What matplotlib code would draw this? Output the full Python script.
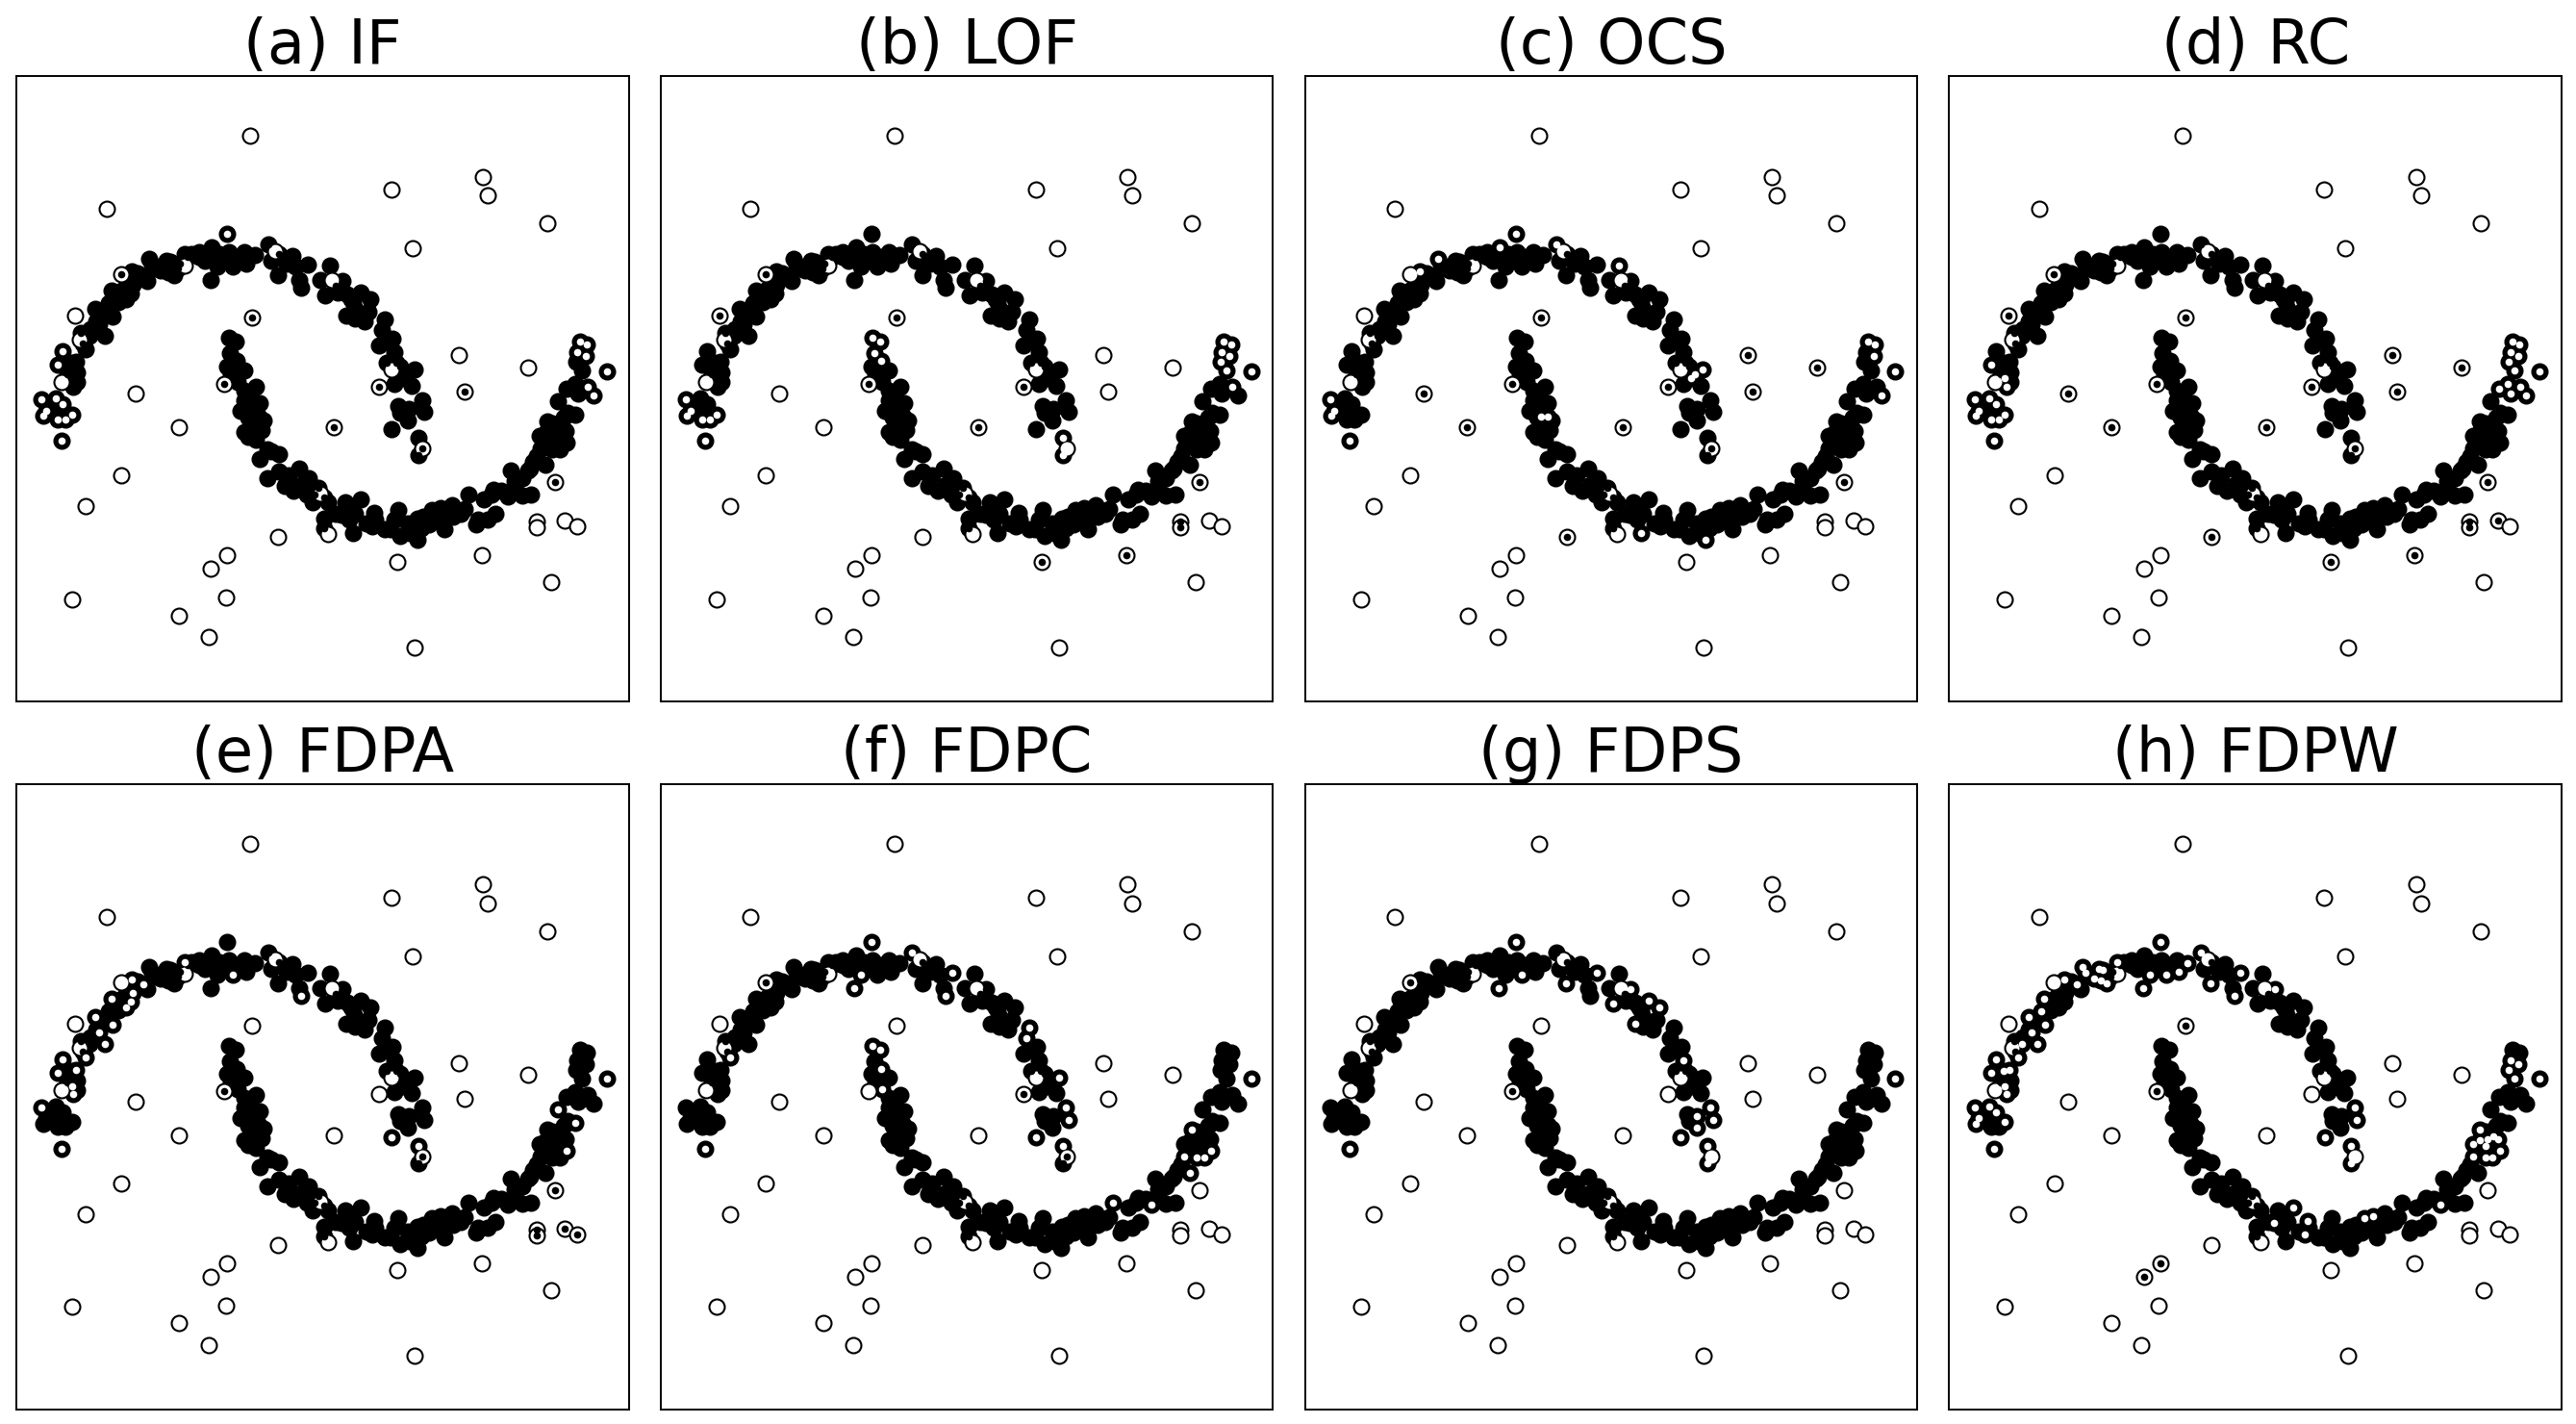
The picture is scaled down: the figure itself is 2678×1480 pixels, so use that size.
import matplotlib
matplotlib.use("Agg")
import matplotlib.pyplot as plt
import numpy as np

# --- Data (y grows downwards) ---
TITLES = ['(a) IF', '(b) LOF', '(c) OCS', '(d) RC',
          '(e) FDPA', '(f) FDPC', '(g) FDPS', '(h) FDPW']

MOON_X = [57, 95, 112, 68, 60, 100, 120, 137, 108, 85,
          140, 137, 100, 112, 148, 172, 133, 125, 150, 115,
          160, 182, 222, 208, 185, 198, 242, 233, 240, 215,
          225, 278, 292, 295, 293, 325, 265, 258, 250, 305,
          340, 348, 370, 385, 395, 390, 405, 432, 360, 335,
          415, 440, 420, 470, 503, 485, 518, 500, 545, 525,
          548, 560, 595, 617, 590, 570, 530, 505, 470,
          652, 660, 678, 715, 700, 757, 740, 735, 725, 680,
          815, 847, 790, 802, 830, 835, 860, 895, 922, 858,
          880, 905, 890, 915, 880,
          960, 951, 980, 945, 985, 960, 965, 990, 1037, 1005,
          985, 1030, 1000, 1015,
          995, 1057, 1063, 1022, 1020, 1000, 978, 1048, 1048,
          548, 568, 552, 570, 545, 590, 573, 555, 620, 590,
          612, 628, 580, 610, 630, 590, 590, 635, 610, 620,
          650, 630, 680, 660, 650, 680, 695, 705, 735, 760,
          740, 755, 770, 800, 785, 810, 775,
          800, 800, 855, 895, 845, 870, 875, 865, 880, 932,
          925, 935, 910, 995, 975, 985, 1000, 1025, 1044, 1045,
          1055, 1020, 1082, 1105, 1135, 1090, 1115, 1140, 1120, 1075,
          1180, 1170, 1205, 1230, 1250, 1220, 1200,
          1245, 1282, 1290, 1320, 1345, 1300, 1265, 1335, 1381, 1350,
          1320, 1300,
          1368, 1400, 1420, 1438, 1367, 1385, 1405, 1422, 1435, 1400,
          1387, 1460, 1415, 1440, 1430,
          1437, 1460, 1467, 1493, 1508, 1543, 1462, 1478, 1466, 1487,
          1472, 1490,
          # extra points inside the dense parts of the moons
          90, 105, 150, 200, 165, 270, 310, 450, 875, 870,
          600, 640, 600, 600, 720, 1060, 960, 830, 1240, 1360, 1400, 1410, 1390, 1160, 1340]
MOON_Y = [583, 580, 598, 618, 635, 645, 645, 630, 712, 605,
          543, 518, 475, 432, 467, 428, 470, 505, 500, 470,
          375, 385, 385, 350, 365, 302, 325, 283, 245, 320,
          300, 270, 253, 225, 185, 200, 260, 280, 270, 205,
          145, 162, 182, 150, 155, 187, 195, 130, 175, 215,
          175, 140, 160, 125, 110, 150, 170, 212, 68, 130,
          125, 170, 160, 132, 125, 140, 150, 140, 140,
          100, 150, 197, 135, 160, 162, 235, 210, 170, 130,
          167, 215, 210, 260, 230, 250, 255, 250, 272, 322,
          300, 340, 320, 310, 330,
          335, 367, 395, 415, 437, 400, 470, 470, 490, 518,
          535, 540, 480, 505,
          605, 585, 622, 612, 648, 625, 678, 703, 758,
          390, 404, 440, 463, 480, 492, 528, 505, 545, 555,
          636, 638, 618, 590, 595, 585, 685, 680, 660, 710,
          740, 770, 755, 745, 830, 810, 855, 820, 800, 830,
          850, 880, 905, 890, 860, 905, 880,
          955, 985, 905, 895, 945, 920, 1002, 960, 940, 938,
          980, 960, 970, 930, 990, 960, 1010, 1000, 1023, 955,
          985, 970, 928, 922, 915, 960, 990, 950, 940, 975,
          880, 925, 960, 960, 940, 895, 975,
          865, 888, 805, 885, 882, 860, 870, 805, 787, 780,
          830, 840,
          738, 741, 741, 720, 697, 685, 682, 675, 683, 703,
          652, 632, 590, 625, 640,
          550, 535, 565, 545, 572, 495, 467, 494, 436, 448,
          402, 413,
          600, 620, 530, 340, 410, 240, 190, 130, 280, 270,
          620, 650, 640, 700, 870, 950, 990, 940, 880, 760, 660, 720, 710, 940, 800]

OUT_X = [605, 227, 977, 1218, 1231, 1388, 1032, 266, 432, 670, 820, 145, 157, 611, 110,
         536, 303, 417, 1155, 1337, 1168, 944, 977, 825, 1058, 267, 172, 1407, 790, 810,
         1358, 1358, 1433, 1465, 679, 545, 502, 993, 1214, 1397, 137, 542, 418, 496, 1038]
OUT_Y = [-239, -10, -71, -112, -53, 34, 112, 192, 167, 120, 210, 321, 398, 327, 530,
         534, 566, 670, 446, 483, 558, 543, 490, 670, 737, 820, 918, 843, 878, 1005,
         964, 982, 963, 979, 1012, 1071, 1113, 1092, 1071, 1155, 1207, 1202, 1258, 1326, 1358]

# outliers each method missed (they get a dark centre)
MISSED_A = [7, 13, 15, 20, 21, 23, 24, 27]
MISSED_B = [7, 11, 13, 15, 21, 23, 27, 30, 31, 37, 38]
MISSED_C = [13, 15, 16, 17, 18, 19, 20, 21, 23, 24, 27, 34]
MISSED_D = [7, 11, 13, 15, 16, 17, 18, 19, 20, 21, 23, 24, 27, 30, 31, 32, 34, 37, 38]
MISSED_E = [15, 24, 27, 30, 31, 32, 33]
MISSED_F = [7, 21, 24]
MISSED_G = [7, 15]
MISSED_H = [13, 15, 35, 36]

# moon points each method wrongly flagged (they get a white centre)
FALSE_A = [(57, 583), (95, 580), (112, 598), (68, 618), (60, 635), (100, 645), (120, 645),
           (137, 630), (108, 712), (112, 432), (100, 475), (545, 68), (1472, 402), (1490, 413),
           (1466, 436), (1487, 448), (1493, 545), (1508, 572), (1543, 495)]
FALSE_B = [(57, 583), (68, 618), (60, 635), (100, 645), (120, 645), (137, 630), (108, 712),
           (548, 390), (568, 404), (552, 440), (570, 463), (1048, 703), (1048, 758),
           (1472, 402), (1490, 413), (1466, 436), (1487, 448), (1462, 467), (1478, 494),
           (1493, 545), (1543, 495)]
FALSE_C = [(545, 68), (503, 110), (340, 145), (293, 185), (652, 100), (815, 167), (1037, 490),
           (1005, 518), (1015, 505), (612, 636), (628, 638), (57, 583), (68, 618), (60, 635),
           (108, 712), (1472, 402), (1490, 413), (1487, 448), (1508, 572), (1543, 495),
           (875, 1002), (1044, 1023)]
FALSE_D = [(57, 583), (68, 618), (60, 635), (95, 580), (112, 598), (100, 645), (120, 645),
           (137, 630), (108, 712), (100, 475), (137, 518), (140, 543), (1472, 402), (1490, 413),
           (1466, 436), (1487, 448), (1462, 467), (1478, 494), (1437, 550), (1460, 535),
           (1467, 565), (1493, 545), (1508, 572), (1543, 495)]
FALSE_E = [(57, 583), (108, 712), (140, 543), (137, 518), (112, 432), (100, 475), (148, 467),
           (172, 428), (222, 385), (208, 350), (242, 325), (198, 302), (240, 245), (278, 270),
           (292, 253), (295, 225), (293, 185), (325, 200), (432, 130), (560, 170), (740, 235),
           (978, 678), (1048, 703), (1415, 590), (1460, 632), (1438, 720), (1543, 495)]
FALSE_F = [(545, 68), (518, 170), (500, 212), (652, 100), (757, 162), (740, 235), (172, 428),
           (548, 390), (568, 404), (570, 463), (573, 528), (960, 335), (951, 367), (1037, 490),
           (1057, 585), (1063, 622), (978, 678), (1048, 703), (108, 712), (1387, 652),
           (1368, 738), (1400, 741), (1420, 741), (1438, 720), (1381, 787), (1180, 880),
           (1282, 888), (1543, 495)]
FALSE_G = [(545, 68), (560, 170), (500, 212), (678, 197), (757, 162), (847, 215), (802, 260),
           (895, 250), (922, 272), (858, 322), (985, 437), (1057, 585), (1063, 622), (1022, 612),
           (1020, 648), (978, 678), (1048, 703), (1048, 758), (108, 712), (1543, 495)]
FALSE_H = [(57, 583), (95, 580), (112, 598), (68, 618), (60, 635), (137, 630), (108, 712),
           (112, 432), (100, 475), (133, 470), (150, 465), (137, 518), (140, 543), (172, 428),
           (182, 385), (222, 385), (208, 350), (242, 325), (198, 302), (233, 283), (240, 245),
           (293, 185), (325, 200), (348, 162), (340, 145), (370, 182), (385, 150), (395, 155),
           (390, 187), (405, 195), (432, 130), (518, 170), (560, 170), (595, 160), (617, 132),
           (500, 212), (652, 100), (678, 197), (740, 235), (757, 162), (847, 215), (545, 68),
           (1057, 585), (1063, 622), (978, 678), (1048, 703), (1048, 758), (1466, 436),
           (1487, 448), (1462, 467), (1478, 494), (1387, 652), (1367, 697), (1385, 685),
           (1405, 682), (1422, 675), (1435, 683), (1400, 703), (1438, 720), (1368, 738),
           (1400, 741), (1420, 741), (845, 945), (895, 895), (932, 938), (925, 980),
           (1082, 928), (1105, 922), (1282, 888), (1543, 495)]

MISSED = [MISSED_A, MISSED_B, MISSED_C, MISSED_D, MISSED_E, MISSED_F, MISSED_G, MISSED_H]
FALSE_POS = [FALSE_A, FALSE_B, FALSE_C, FALSE_D, FALSE_E, FALSE_F, FALSE_G, FALSE_H]

if __name__ == "__main__":
    moon = np.column_stack([MOON_X, MOON_Y])
    out = np.column_stack([OUT_X, OUT_Y])

    fig, axes = plt.subplots(2, 4, figsize=(26.78, 14.8), dpi=100)
    fig.subplots_adjust(left=17 / 2678, right=2663 / 2678, top=1 - 79 / 1480, bottom=1 - 1465 / 1480,
                        wspace=0.052, hspace=0.132)

    big = 132
    small = 30

    for i, ax in enumerate(axes.flat):
        # truth layer
        ax.scatter(moon[:, 0], moon[:, 1], s=big, c='black', edgecolors='black', linewidths=1.5)
        ax.scatter(out[:, 0], out[:, 1], s=big, c='white', edgecolors='black', linewidths=1.5)

        # method layer
        moon_flag = np.zeros(len(moon), dtype=bool)
        for p in FALSE_POS[i]:
            moon_flag[np.argmin(((moon - p) ** 2).sum(axis=1))] = True
        out_miss = np.zeros(len(out), dtype=bool)
        out_miss[MISSED[i]] = True

        ax.scatter(moon[~moon_flag, 0], moon[~moon_flag, 1], s=small, c='black', linewidths=0)
        ax.scatter(out[out_miss, 0], out[out_miss, 1], s=small, c='black', linewidths=0)
        ax.scatter(moon[moon_flag, 0], moon[moon_flag, 1], s=small, c='white', linewidths=0)

        ax.set_xlim(-10, 1601)
        ax.set_ylim(1527, -426)
        ax.set_xticks([])
        ax.set_yticks([])
        ax.set_title(TITLES[i], fontsize=46, pad=7)
        for spine in ax.spines.values():
            spine.set_linewidth(1.4)

    fig.savefig('out.png', dpi=100)
